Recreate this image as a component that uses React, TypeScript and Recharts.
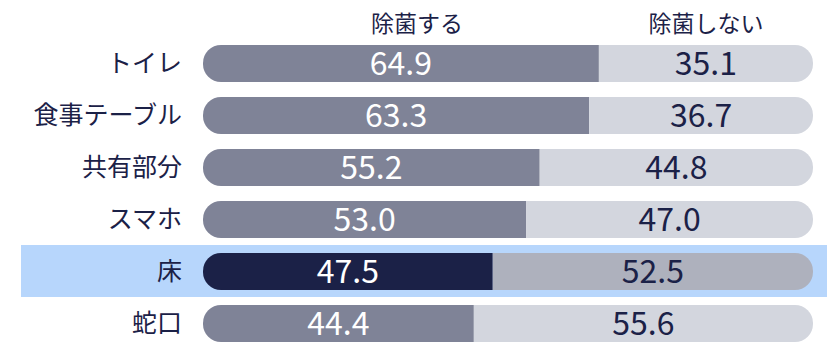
import { BarChart, Bar, XAxis, YAxis, Cell, LabelList, ReferenceArea } from "recharts";

// ─── Data ─────────────────────────────────────────────────────────────────────
const categories = ["トイレ", "食事テーブル", "共有部分", "スマホ", "床", "蛇口"];
const sanitize = [64.9, 63.3, 55.2, 53.0, 47.5, 44.4];
const noSanitize = [35.1, 36.7, 44.8, 47.0, 52.5, 55.6];
const seriesNames = ["除菌する", "除菌しない"];
const highlight = "床";

const data = categories.map((name, i) => ({ name, yes: sanitize[i], no: noSanitize[i] }));

// ─── Styles ──────────────────────────────────────────────────────────────────
const FONT = '"Noto Sans", "Noto Sans CJK JP", sans-serif';
const NUM_FONT = '"Noto Sans CJK JP", sans-serif';
const NAVY = "#1b2147";
const C = {
  yes: "#7f8397", no: "#d3d6de",
  yesHi: "#1b2147", noHi: "#aeb1bd",
  band: "#b7d6fc",
};

const fmt = (v: any) => Number(v).toFixed(1);

export default function App() {
  return (
    <div style={{ position: "absolute", left: 0, top: 0, width: 840, height: 360, fontFamily: FONT, background: "#fff" }}>
      <div style={{ position: "absolute", left: 337, width: 160, top: 5, textAlign: "center", fontSize: 23, color: NAVY }}>
        {seriesNames[0]}
      </div>
      <div style={{ position: "absolute", left: 626, width: 160, top: 5, textAlign: "center", fontSize: 23, color: NAVY }}>
        {seriesNames[1]}
      </div>
      <BarChart width={840} height={360} data={data} layout="vertical"
        margin={{ top: 37, right: 27, bottom: 11, left: 0 }} barSize={37}>
        <XAxis type="number" domain={[0, 100]} hide />
        <YAxis type="category" dataKey="name" width={203} axisLine={false} tickLine={false}
          tickSize={0} tickMargin={21} tick={{ fontSize: 25, fill: NAVY, fontFamily: FONT }} />
        <ReferenceArea y1={highlight} y2={highlight} ifOverflow="visible"
          shape={(p: any) => <rect x={21} y={p.y} width={806} height={p.height} fill={C.band} />} />
        <Bar dataKey="yes" stackId="a" radius={[18, 0, 0, 18]} isAnimationActive={false}>
          {data.map((d, i) => (
            <Cell key={i} fill={d.name === highlight ? C.yesHi : C.yes} />
          ))}
          <LabelList dataKey="yes" position="center" formatter={fmt}
            style={{ fill: "#fff", fontSize: 32, fontFamily: NUM_FONT }} />
        </Bar>
        <Bar dataKey="no" stackId="a" radius={[0, 18, 18, 0]} isAnimationActive={false}>
          {data.map((d, i) => (
            <Cell key={i} fill={d.name === highlight ? C.noHi : C.no} />
          ))}
          <LabelList dataKey="no" position="center" formatter={fmt}
            style={{ fill: NAVY, fontSize: 32, fontFamily: NUM_FONT }} />
        </Bar>
      </BarChart>
    </div>
  );
}
